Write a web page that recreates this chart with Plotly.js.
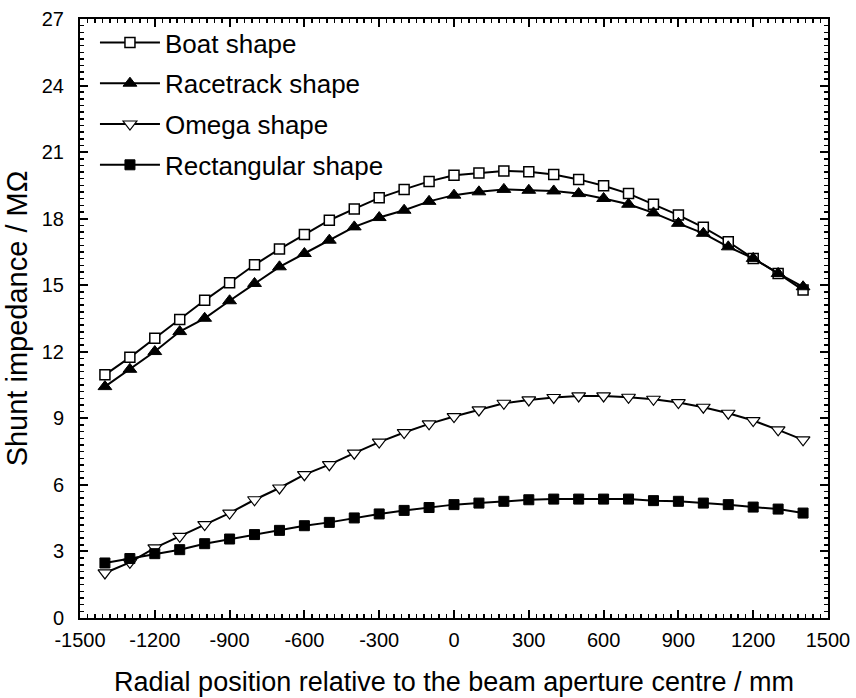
<!DOCTYPE html>
<html>
<head>
<meta charset="utf-8">
<script src="https://cdn.plot.ly/plotly-3.0.1.min.js"></script>
<style>html,body{margin:0;padding:0;background:#fff;}#chart{width:856px;height:698px;}</style>
</head>
<body>
<div id="chart"></div>
<script>
const positions = [-1400,-1300,-1200,-1100,-1000,-900,-800,-700,-600,-500,-400,-300,-200,-100,0,100,200,300,400,500,600,700,800,900,1000,1100,1200,1300,1400];
const boatShape = [10.96,11.75,12.61,13.46,14.32,15.11,15.92,16.63,17.29,17.93,18.44,18.94,19.32,19.68,19.96,20.06,20.15,20.11,19.99,19.77,19.48,19.13,18.65,18.16,17.61,16.96,16.21,15.53,14.78];
const racetrackShape = [10.43,11.21,12.01,12.91,13.51,14.30,15.08,15.83,16.43,17.03,17.63,18.05,18.38,18.78,19.06,19.21,19.32,19.28,19.25,19.13,18.91,18.65,18.26,17.79,17.34,16.73,16.21,15.53,14.93];
const omegaShape = [2.03,2.51,3.16,3.68,4.21,4.73,5.33,5.86,6.46,6.91,7.43,7.93,8.36,8.75,9.08,9.38,9.68,9.83,9.94,10.01,10.01,9.95,9.86,9.71,9.50,9.23,8.90,8.48,8.03];
const rectangularShape = [2.48,2.68,2.90,3.08,3.35,3.56,3.76,3.95,4.16,4.31,4.51,4.69,4.85,4.98,5.11,5.18,5.26,5.33,5.36,5.36,5.36,5.36,5.29,5.26,5.18,5.11,5.00,4.91,4.73];
const seriesNames = ['Boat shape','Racetrack shape','Omega shape','Rectangular shape'];
const xTickVals = [-1500,-1200,-900,-600,-300,0,300,600,900,1200,1500];
const xTickText = ['-1500','-1200','-900','-600','-300','0','300','600','900','1200','1500'];
const yTickVals = [0,3,6,9,12,15,18,21,24,27];
const yTickText = ['0','3','6','9','12','15','18','21','24','27'];

const lineStyle = {color:'#000', width:2};
const traces = [
  {x:positions, y:boatShape, name:seriesNames[0], legendgroup:'a', mode:'lines+markers', line:lineStyle,
   marker:{symbol:'square', size:10, color:'#fff', line:{color:'#000', width:1.5}}},
  {x:positions, y:racetrackShape, name:seriesNames[1], legendgroup:'b', mode:'lines+markers', line:lineStyle,
   marker:{symbol:'triangle-up', size:12, color:'#000', line:{color:'#000', width:1}}},
  {x:positions, y:omegaShape, name:seriesNames[2], legendgroup:'c', mode:'lines+markers', line:lineStyle,
   marker:{symbol:'triangle-down', size:12, color:'#fff', line:{color:'#000', width:1.2}}},
  {x:positions, y:rectangularShape, name:seriesNames[3], legendgroup:'d', mode:'lines+markers', line:lineStyle,
   marker:{symbol:'square', size:10, color:'#000', line:{color:'#000', width:1}}}
];

const font = 'Arial, "Liberation Sans", sans-serif';
const axisCommon = {
  showline:true, linecolor:'#000', linewidth:2, mirror:'ticks',
  ticks:'inside', ticklen:8, tickwidth:2, tickcolor:'#000',
  showgrid:false, zeroline:false,
  tickfont:{family:font, size:20, color:'#000'}
};
const layout = {
  width:856, height:698,
  margin:{l:80, r:28, t:19, b:80},
  paper_bgcolor:'#fff', plot_bgcolor:'#fff',
  font:{family:font, color:'#000'},
  xaxis:Object.assign({}, axisCommon, {
    range:[-1500,1500], tickmode:'array', tickvals:xTickVals, ticktext:xTickText, ticklabelstandoff:3,
    minor:{dtick:30, ticks:'inside', ticklen:4, tickwidth:1.5, tickcolor:'#000', showgrid:false},
    title:{text:'Radial position relative to the beam aperture centre / mm', font:{family:font, size:27, color:'#000'}, standoff:22}
  }),
  yaxis:Object.assign({}, axisCommon, {
    range:[0,27], tickmode:'array', tickvals:yTickVals, ticktext:yTickText, ticklabelstandoff:10,
    minor:{dtick:0.3, ticks:'inside', ticklen:4, tickwidth:1.5, tickcolor:'#000', showgrid:false},
    title:{text:'Shunt impedance / MΩ', font:{family:font, size:29, color:'#000'}, standoff:6}
  }),
  showlegend:true,
  legend:{x:0.02, y:1, xanchor:'left', yanchor:'top', bgcolor:'rgba(0,0,0,0)', borderwidth:0,
    font:{family:font, size:26, color:'#000'}, itemwidth:60, tracegroupgap:4}
};
Plotly.newPlot('chart', traces, layout, {displayModeBar:false, staticPlot:true});
</script>
</body>
</html>
